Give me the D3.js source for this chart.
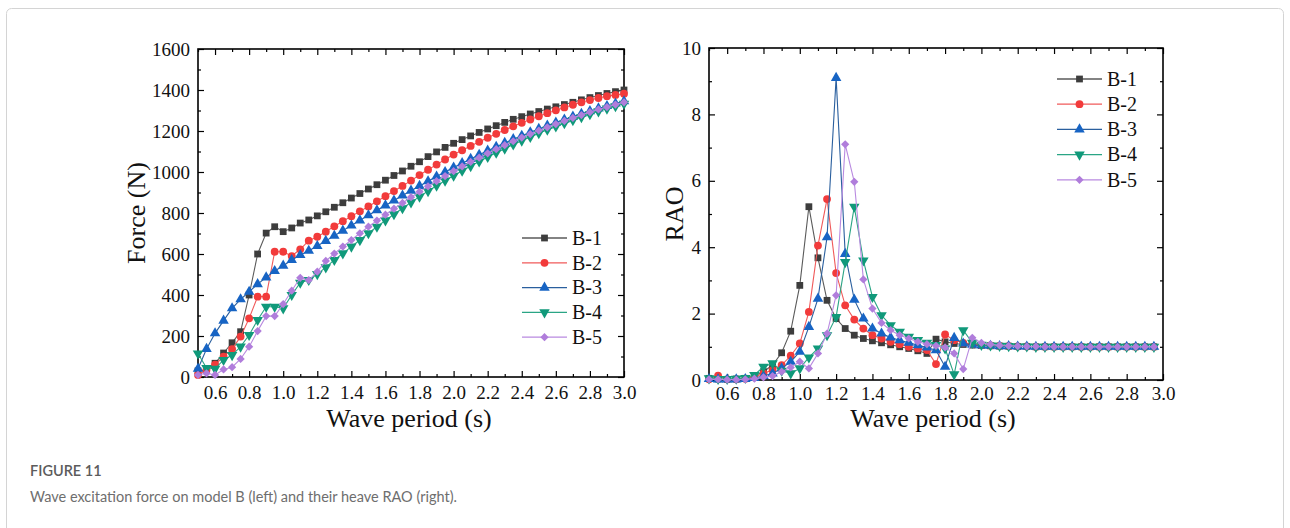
<!DOCTYPE html>
<html lang="en">
<head>
<meta charset="UTF-8">
<title>Wave excitation force and heave RAO, model B</title>
<script src="https://d3js.org/d3.v7.min.js"></script>
<style>
  body { margin: 0; background: #fff; }
  svg text { font-family: "Liberation Serif", "Times New Roman", serif; fill: #111; }
  svg .caption text { font-family: Lato, "Open Sans", sans-serif; }
</style>
</head>
<body>
<svg id="fig" width="1290" height="528"></svg>
<script>
// wave periods (s), 0.05 s steps
const periods = [0.50, 0.55, 0.60, 0.65, 0.70, 0.75, 0.80, 0.85, 0.90, 0.95,
                 1.00, 1.05, 1.10, 1.15, 1.20, 1.25, 1.30, 1.35, 1.40, 1.45,
                 1.50, 1.55, 1.60, 1.65, 1.70, 1.75, 1.80, 1.85, 1.90, 1.95,
                 2.00, 2.05, 2.10, 2.15, 2.20, 2.25, 2.30, 2.35, 2.40, 2.45,
                 2.50, 2.55, 2.60, 2.65, 2.70, 2.75, 2.80, 2.85, 2.90, 2.95, 3.00];

const seriesNames = ["B-1", "B-2", "B-3", "B-4", "B-5"];

// excitation force (N)
const forceB1 = [30, 35, 67, 117, 167, 221, 400, 600, 702, 733, 709, 727, 751, 766,
  786, 806, 828, 850, 873, 895, 917, 938, 960, 983, 1005, 1028, 1050, 1075, 1098, 1120,
  1140, 1158, 1176, 1193, 1210, 1226, 1242, 1257, 1270, 1283, 1295, 1307, 1318, 1329,
  1340, 1352, 1363, 1373, 1383, 1392, 1400];
const forceB2 = [10, 35, 60, 99, 136, 197, 286, 392, 392, 611, 611, 590, 623, 665,
  684, 709, 735, 760, 784, 808, 832, 857, 882, 907, 932, 958, 985, 1011, 1036, 1061,
  1085, 1106, 1127, 1147, 1167, 1186, 1205, 1223, 1240, 1256, 1272, 1287, 1301, 1315,
  1328, 1340, 1351, 1361, 1370, 1376, 1382];
const forceB3 = [40, 137, 213, 275, 335, 379, 416, 453, 486, 517, 543, 571, 595, 616,
  639, 664, 689, 714, 739, 764, 789, 813, 837, 861, 885, 909, 932, 955, 978, 1000,
  1022, 1043, 1064, 1084, 1104, 1123, 1142, 1160, 1177, 1194, 1210, 1226, 1241, 1256,
  1270, 1284, 1297, 1310, 1322, 1334, 1345];
const forceB4 = [115, 44, 40, 83, 107, 148, 205, 278, 343, 343, 335, 400, 460, 473,
  502, 535, 571, 603, 636, 668, 701, 733, 764, 794, 823, 852, 880, 907, 933, 958,
  982, 1006, 1029, 1051, 1073, 1094, 1114, 1134, 1153, 1171, 1189, 1206, 1222, 1238,
  1253, 1268, 1282, 1296, 1309, 1321, 1333];
const forceB5 = [10, 18, 10, 37, 48, 88, 148, 224, 297, 297, 356, 421, 484, 473,
  514, 566, 602, 636, 668, 701, 733, 763, 792, 821, 849, 877, 904, 930, 955, 980,
  1004, 1027, 1049, 1070, 1091, 1111, 1131, 1150, 1168, 1185, 1202, 1218, 1234, 1249,
  1264, 1278, 1292, 1305, 1317, 1329, 1340];

// heave RAO (0.50 .. 2.95 s)
const raoB1 = [0.05, 0.03, 0.02, 0.03, 0.05, 0.12, 0.25, 0.45, 0.82, 1.47,
  2.85, 5.22, 3.68, 2.40, 1.85, 1.55, 1.35, 1.25, 1.18, 1.12,
  1.06, 1.00, 0.95, 0.88, 0.80, 1.23, 1.15, 1.10, 1.07, 1.05,
  1.04, 1.03, 1.02, 1.02, 1.01, 1.01, 1.00, 1.00, 1.00, 1.00,
  1.00, 1.00, 1.00, 1.00, 1.00, 1.00, 1.00, 1.00, 1.00, 1.00];
const raoB2 = [0.02, 0.13, 0.02, 0.02, 0.04, 0.08, 0.20, 0.30, 0.45, 0.73,
  1.10, 2.05, 4.05, 5.45, 3.22, 2.25, 1.82, 1.55, 1.35, 1.25,
  1.15, 1.08, 1.00, 0.95, 0.90, 0.48, 1.37, 1.20, 1.12, 1.08,
  1.05, 1.04, 1.03, 1.02, 1.01, 1.01, 1.00, 1.00, 1.00, 1.00,
  1.00, 1.00, 1.00, 1.00, 1.00, 1.00, 1.00, 1.00, 1.00, 1.00];
const raoB3 = [0.03, 0.02, 0.02, 0.02, 0.03, 0.06, 0.12, 0.20, 0.35, 0.55,
  0.85, 1.60, 2.45, 4.30, 9.10, 3.80, 2.42, 1.85, 1.55, 1.40,
  1.28, 1.20, 1.12, 1.05, 0.98, 0.90, 0.40, 1.27, 1.10, 1.06,
  1.04, 1.03, 1.02, 1.02, 1.01, 1.01, 1.00, 1.00, 1.00, 1.00,
  1.00, 1.00, 1.00, 1.00, 1.00, 1.00, 1.00, 1.00, 1.00, 1.00];
const raoB4 = [0.05, 0.03, 0.03, 0.04, 0.06, 0.15, 0.40, 0.50, 0.28, 0.20,
  0.35, 0.68, 0.95, 1.35, 1.90, 3.55, 5.22, 3.60, 2.50, 1.95,
  1.65, 1.45, 1.30, 1.20, 1.12, 1.05, 0.95, 0.17, 1.50, 1.12,
  1.06, 1.04, 1.03, 1.02, 1.01, 1.01, 1.00, 1.00, 1.00, 1.00,
  1.00, 1.00, 1.00, 1.00, 1.00, 1.00, 1.00, 1.00, 1.00, 1.00];
const raoB5 = [0.02, 0.02, 0.01, 0.01, 0.02, 0.04, 0.08, 0.12, 0.25, 0.38,
  0.55, 0.35, 0.80, 1.40, 2.55, 7.10, 5.97, 3.03, 2.15, 1.72,
  1.50, 1.35, 1.25, 1.15, 1.08, 1.03, 0.98, 0.80, 0.33, 1.27,
  1.12, 1.07, 1.04, 1.03, 1.02, 1.01, 1.01, 1.00, 1.00, 1.00,
  1.00, 1.00, 1.00, 1.00, 1.00, 1.00, 1.00, 1.00, 1.00, 1.00];

// ticks
const xTicks = [0.6, 0.8, 1.0, 1.2, 1.4, 1.6, 1.8, 2.0, 2.2, 2.4, 2.6, 2.8, 3.0];
const xMinor = [0.5, 0.7, 0.9, 1.1, 1.3, 1.5, 1.7, 1.9, 2.1, 2.3, 2.5, 2.7, 2.9];
const forceTicks = [0, 200, 400, 600, 800, 1000, 1200, 1400, 1600];
const forceMinor = [100, 300, 500, 700, 900, 1100, 1300, 1500];
const raoTicks = [0, 2, 4, 6, 8, 10];
const raoMinor = [1, 3, 5, 7, 9];

// styles
const colors = ["#3d3d3d", "#f23b3b", "#1764c4", "#10997a", "#b07ddb"];
const lineColors = ["#5a5a5a", "#f05a5a", "#2a5f9e", "#2aa585", "#b98ae0"];
const symbols = [
  { type: d3.symbolSquare, size: 46, rot: 0 },
  { type: d3.symbolCircle, size: 48, rot: 0 },
  { type: d3.symbolTriangle, size: 48, rot: 0 },
  { type: d3.symbolTriangle, size: 48, rot: 180 },
  { type: d3.symbolSquare, size: 34, rot: 45 }
];

const svg = d3.select("#fig");

// outer figure border
svg.append("rect")
  .attr("x", 6.5).attr("y", 8.5)
  .attr("width", 1277).attr("height", 560)
  .attr("rx", 5)
  .attr("fill", "none")
  .attr("stroke", "#d4d4d4");

function drawPanel(p) {
  const g = svg.append("g");
  const x = d3.scaleLinear().domain([0.5, 3.0]).range([p.left, p.right]);
  const y = d3.scaleLinear().domain(p.yDomain).range([p.bottom, p.top]);

  function styleAxis(a) {
    a.select(".domain").remove();
    a.attr("color", "#000").attr("font-size", 19);
    a.selectAll(".tick line").attr("stroke-width", 1.2);
  }

  // bottom
  g.append("g").attr("transform", `translate(0,${p.bottom})`)
    .call(d3.axisBottom(x).tickValues(xTicks).tickFormat(d3.format(".1f"))
      .tickSize(-6).tickPadding(p.xPad))
    .call(styleAxis);
  g.append("g").attr("transform", `translate(0,${p.bottom})`)
    .call(d3.axisBottom(x).tickValues(xMinor).tickFormat("").tickSize(-3))
    .call(styleAxis);
  // top mirror
  g.append("g").attr("transform", `translate(0,${p.top})`)
    .call(d3.axisTop(x).tickValues(xTicks).tickFormat("").tickSize(-6))
    .call(styleAxis);
  g.append("g").attr("transform", `translate(0,${p.top})`)
    .call(d3.axisTop(x).tickValues(xMinor).tickFormat("").tickSize(-3))
    .call(styleAxis);
  // left
  g.append("g").attr("transform", `translate(${p.left},0)`)
    .call(d3.axisLeft(y).tickValues(p.yTicks).tickFormat(d3.format("d"))
      .tickSize(-6).tickPadding(8))
    .call(styleAxis);
  g.append("g").attr("transform", `translate(${p.left},0)`)
    .call(d3.axisLeft(y).tickValues(p.yMinor).tickFormat("").tickSize(-3))
    .call(styleAxis);
  // right mirror
  g.append("g").attr("transform", `translate(${p.right},0)`)
    .call(d3.axisRight(y).tickValues(p.yTicks).tickFormat("").tickSize(-6))
    .call(styleAxis);
  g.append("g").attr("transform", `translate(${p.right},0)`)
    .call(d3.axisRight(y).tickValues(p.yMinor).tickFormat("").tickSize(-3))
    .call(styleAxis);

  // frame
  g.append("rect")
    .attr("x", p.left).attr("y", p.top)
    .attr("width", p.right - p.left).attr("height", p.bottom - p.top)
    .attr("fill", "none").attr("stroke", "#000").attr("stroke-width", 1.6);

  // series
  const line = d3.line().x(d => x(d[0])).y(d => y(d[1]));
  p.series.forEach((vals, i) => {
    const pts = vals.map((v, k) => [periods[k], v]);
    g.append("path")
      .attr("d", line(pts))
      .attr("fill", "none")
      .attr("stroke", lineColors[i])
      .attr("stroke-width", 1.1);
    const s = symbols[i];
    g.append("g").selectAll("path")
      .data(pts)
      .join("path")
      .attr("d", d3.symbol().type(s.type).size(s.size))
      .attr("transform", d => `translate(${x(d[0])},${y(d[1])}) rotate(${s.rot})`)
      .attr("fill", colors[i]);
  });

  // legend
  const lg = g.append("g");
  seriesNames.forEach((name, i) => {
    const ly = p.legend.y + i * p.legend.dy;
    const lx = p.legend.x;
    lg.append("line")
      .attr("x1", lx).attr("x2", lx + 45)
      .attr("y1", ly).attr("y2", ly)
      .attr("stroke", lineColors[i]).attr("stroke-width", 1.3);
    const s = symbols[i];
    lg.append("path")
      .attr("d", d3.symbol().type(s.type).size(s.size)())
      .attr("transform", `translate(${lx + 22.5},${ly}) rotate(${s.rot})`)
      .attr("fill", colors[i]);
    lg.append("text")
      .attr("x", lx + 50).attr("y", ly)
      .attr("dy", "0.34em")
      .attr("font-size", 20)
      .text(name);
  });

  // axis titles
  g.append("text")
    .attr("x", p.xTitleX).attr("y", p.xTitleY)
    .attr("text-anchor", "middle")
    .attr("font-size", 26)
    .text("Wave period (s)");
  g.append("text")
    .attr("transform", `translate(${p.yTitleX},${(p.top + p.bottom) / 2}) rotate(-90)`)
    .attr("text-anchor", "middle")
    .attr("font-size", 26)
    .text(p.yTitle);
}

drawPanel({
  left: 198, right: 624, top: 49, bottom: 377,
  yDomain: [0, 1600], yTicks: forceTicks, yMinor: forceMinor,
  series: [forceB1, forceB2, forceB3, forceB4, forceB5],
  xPad: 9,
  legend: { x: 522, y: 238, dy: 24.8 },
  xTitleX: 409, xTitleY: 427,
  yTitleX: 145, yTitle: "Force (N)"
});

drawPanel({
  left: 709, right: 1163, top: 48, bottom: 380,
  yDomain: [0, 10], yTicks: raoTicks, yMinor: raoMinor,
  series: [raoB1, raoB2, raoB3, raoB4, raoB5],
  xPad: 7,
  legend: { x: 1057, y: 79, dy: 25.2 },
  xTitleX: 933, xTitleY: 427,
  yTitleX: 683, yTitle: "RAO"
});

// caption
const cap = svg.append("g").attr("class", "caption");
cap.append("text")
  .attr("x", 30).attr("y", 476)
  .attr("font-size", 14.5)
  .attr("font-weight", 600)
  .style("fill", "#5c5c5c")
  .text("FIGURE 11");
cap.append("text")
  .attr("x", 30).attr("y", 502)
  .attr("font-size", 14.5)
  .style("fill", "#6e6e6e")
  .text("Wave excitation force on model B (left) and their heave RAO (right).");
</script>
</body>
</html>
